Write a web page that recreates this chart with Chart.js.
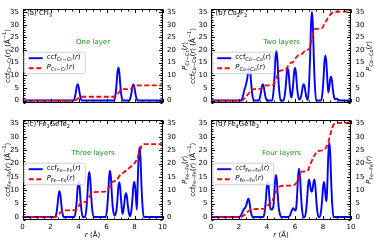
<!DOCTYPE html>
<html>
<head>
<meta charset="utf-8">
<script src="https://cdn.jsdelivr.net/npm/chart.js@4.4.0/dist/chart.umd.min.js"></script>
<style>
  html, body { margin: 0; padding: 0; background: #fff; }
  #wrap { position: relative; width: 374px; height: 240px; overflow: hidden; }
  canvas { position: absolute; }
</style>
</head>
<body>
<div id="wrap">
  <canvas id="ca"></canvas>
  <canvas id="cb"></canvas>
  <canvas id="cc"></canvas>
  <canvas id="cd"></canvas>
</div>
<script>
const FONT = '"DejaVu Sans", sans-serif';
const xTicks = [0, 2, 4, 6, 8, 10];
const yTicks = [0, 5, 10, 15, 20, 25, 30, 35];
const yMin = -1.1, yMax = 36.4;

// (a) CrI3
const aCcfR = [0, 3.64, 3.74, 3.81, 3.87, 3.94, 4.01, 4.07, 4.14, 4.24,
  6.55, 6.65, 6.72, 6.78, 6.85, 6.92, 6.98, 7.05, 7.15,
  7.62, 7.72, 7.79, 7.85, 7.92, 7.99, 8.05, 8.12, 8.22, 10];
const aCcfV = [0, 0, 1.3, 3.3, 5.5, 6.5, 5.5, 3.3, 1.3, 0,
  0, 2.6, 6.6, 11, 13.1, 11, 6.6, 2.6, 0,
  0, 1.3, 3.2, 5.4, 6.4, 5.4, 3.2, 1.3, 0, 0];
const aPR = [0, 3.75, 3.94, 4.15, 6.6, 6.85, 7.08, 7.7, 7.92, 8.15, 10];
const aPV = [0, 0, 0.75, 1.5, 1.5, 3.0, 4.5, 4.5, 5.25, 6, 6];

// (b) Co2F2
const bCcfR = [0, 2.15, 2.25, 2.32, 2.38, 2.45, 2.52, 2.59, 2.66, 2.74, 2.81, 2.87, 2.94, 3.04,
  3.4, 3.5, 3.57, 3.63, 3.7, 3.77, 3.83, 3.9, 4.0,
  4.37, 4.47, 4.54, 4.6, 4.67, 4.74, 4.8, 4.87, 4.97,
  5.18, 5.28, 5.35, 5.41, 5.48, 5.55, 5.61, 5.68, 5.74,
  5.8, 5.87, 5.93, 6.0, 6.07, 6.13, 6.2, 6.31,
  6.42, 6.49, 6.55, 6.62, 6.69, 6.75, 6.82, 6.92,
  7.01, 7.08, 7.14, 7.21, 7.28, 7.34, 7.41, 7.51,
  7.87, 7.97, 8.04, 8.1, 8.17, 8.24, 8.3, 8.37, 8.44, 8.5, 8.57, 8.64, 8.7, 8.77, 8.87, 8.98, 9.1, 9.3, 10];
const bCcfV = [0, 0, 1.1, 2.6, 4.2, 5.3, 6.9, 8.7, 11.7, 13.6, 11.2, 6.8, 2.8, 0,
  0, 1.3, 3.3, 5.5, 6.5, 5.5, 3.3, 1.3, 0,
  0, 3.9, 9.8, 16.5, 19.6, 16.5, 9.8, 3.9, 0,
  0, 2.5, 6.4, 10.7, 12.7, 10.7, 6.4, 2.6, 1.2,
  2.7, 6.5, 10.9, 13, 10.9, 6.5, 2.6, 0.4,
  1.3, 3.3, 5.5, 6.5, 5.5, 3.3, 1.3, 0.2,
  7, 17.6, 29.6, 35.2, 29.6, 17.6, 7, 0,
  0, 3.6, 9, 15, 17.9, 15, 9.4, 3.2, 4.7, 7.9, 9.4, 7.9, 4.7, 1.9, 0.5, 0.7, 0.3, 0, 0];
const bPR = [0, 2.2, 2.5, 2.74, 2.9, 3.1, 3.55, 3.7, 3.9, 4.4, 4.67, 4.95, 5.3, 5.48, 5.65, 5.85, 6.0, 6.2, 6.45,
  6.62, 6.8, 7.0, 7.21, 7.4, 7.9, 8.17, 8.36, 8.57, 8.75, 10];
const bPV = [0, 0, 1.5, 3.2, 4.3, 4.5, 4.6, 5.3, 6.0, 6.1, 9, 11.9, 12.1, 13.5, 14.8, 15.2, 16.5, 17.8, 18.3,
  19.2, 20, 20.3, 24.5, 28.3, 28.6, 31, 32.8, 34.4, 35, 35.3];

// (c) Fe3GeTe2
const cCcfR = [0, 2.34, 2.44, 2.51, 2.57, 2.64, 2.71, 2.77, 2.84, 2.94,
  3.71, 3.81, 3.88, 3.94, 4.01, 4.08, 4.14, 4.21, 4.31,
  4.47, 4.57, 4.64, 4.7, 4.77, 4.84, 4.9, 4.97, 5.07,
  5.95, 6.05, 6.12, 6.18, 6.25, 6.32, 6.38, 6.45, 6.58,
  6.71, 6.78, 6.84, 6.91, 6.98, 7.04, 7.11, 7.15,
  7.19, 7.26, 7.32, 7.39, 7.46, 7.52, 7.59, 7.69,
  7.78, 7.85, 7.91, 7.98, 8.05, 8.11, 8.17,
  8.23, 8.29, 8.36, 8.43, 8.49, 8.56, 8.66, 10];
const cCcfV = [0, 0, 1.9, 4.9, 8.1, 9.7, 8.1, 4.9, 1.9, 0,
  0, 2.6, 6.6, 11.1, 13.2, 11.1, 6.6, 2.6, 0,
  0, 3.4, 8.5, 14.2, 16.9, 14.2, 8.5, 3.4, 0,
  0, 3.5, 8.7, 14.5, 17.3, 14.5, 8.7, 3.5, 0.5,
  2.6, 6.5, 10.9, 13, 10.9, 6.5, 2.4, 1.2,
  2, 4.5, 7.5, 8.9, 7.5, 4.5, 1.8, 0.3,
  2.6, 6.6, 11.1, 13.2, 11.1, 6.6, 2.8,
  13, 21.9, 26.1, 21.9, 13, 5.2, 0, 0];
const cPR = [0, 2.35, 2.5, 2.64, 2.8, 3.0, 3.8, 4.0, 4.2, 4.5, 4.77, 5.0, 5.9, 6.25, 6.45, 6.7, 6.91, 7.1,
  7.39, 7.6, 7.98, 8.15, 8.36, 8.55, 8.75, 10];
const cPV = [0, 0, 0.6, 1.3, 2.2, 2.5, 2.6, 4, 5.4, 5.7, 7.5, 9.3, 9.5, 11.5, 13.3, 13.6, 15.3, 16.2,
  17.3, 18.3, 20, 21.5, 24.5, 27, 27.3, 27.3];

// (d) Fe4GeTe2
const dCcfR = [0, 2.03, 2.13, 2.2, 2.28, 2.36, 2.44, 2.52, 2.6, 2.67, 2.74, 2.8, 2.87, 2.97,
  3.75, 3.85, 3.92, 3.98, 4.05, 4.12, 4.18, 4.25, 4.32, 4.4, 4.47, 4.51, 4.57, 4.64, 4.71, 4.77, 4.84, 4.92, 5.05,
  5.55, 5.65, 5.72, 5.8, 5.88, 5.96, 6.03, 6.09, 6.16, 6.22, 6.29, 6.36, 6.42, 6.49, 6.59,
  6.7, 6.8, 6.87, 6.93, 7.0, 7.07, 7.13, 7.19, 7.25, 7.31, 7.38, 7.45, 7.51, 7.58, 7.68,
  7.77, 7.87, 7.94, 8.0, 8.07, 8.14, 8.2, 8.26, 8.32, 8.38, 8.45, 8.52, 8.58, 8.65, 8.75, 10];
const dCcfV = [0, 0, 0.6, 1.3, 2.3, 3, 3.5, 4.4, 6, 6.9, 5.8, 3.5, 1.4, 0,
  0, 2.6, 6.6, 11, 13.1, 11, 6.6, 3, 2.8, 3.2, 4.5, 7.9, 13.2, 15.7, 13.2, 7.9, 3.5, 1.2, 0,
  0, 0.7, 1.7, 2.8, 3.3, 2.7, 2.4, 3.6, 9.1, 15.2, 18.1, 15.2, 9.1, 3.6, 0,
  0, 2.8, 7.1, 11.8, 14.1, 12.5, 10.3, 9.4, 10.3, 12.5, 14.1, 11.8, 7.1, 2.8, 0,
  0, 2.6, 6.6, 11, 13.1, 10.5, 7, 5.9, 13.9, 23.4, 27.8, 23.4, 13.9, 5.6, 0, 0];
const dPR = [0, 2.07, 2.3, 2.5, 2.67, 2.85, 3.1, 3.85, 4.05, 4.2, 4.4, 4.64, 4.9, 5.2, 5.9, 6.1, 6.29, 6.48,
  6.9, 7.0, 7.2, 7.38, 7.6, 8.0, 8.2, 8.38, 8.55, 8.75, 8.95, 10];
const dPV = [0, 0, 0.5, 1.3, 2.2, 2.8, 3, 3.1, 4.3, 5, 6.3, 9.5, 11.4, 11.7, 11.9, 12.8, 15, 17,
  17.2, 18.5, 21, 23, 24.6, 25, 25.8, 28, 31.5, 34.5, 35.1, 35.2];

const panels = [
  { id: 'ca', box: [0, 0, 190, 112], pad: 3, lw: 22.5, rw: 27.5, xh: 1, bottom: false,
    tag: [['(a) CrI', ''], ['3', 'sub']], note: 'One layer', pair: 'Cr−Cr', ccf: [aCcfR, aCcfV], p: [aPR, aPV] },
  { id: 'cb', box: [185, 0, 189, 112], pad: 3, lw: 26, rw: 23, xh: 1, bottom: false,
    tag: [['(b) Co', ''], ['2', 'sub'], ['F', ''], ['2', 'sub']], note: 'Two layers', pair: 'Co−Co', ccf: [bCcfR, bCcfV], p: [bPR, bPV] },
  { id: 'cc', box: [0, 111, 190, 129], pad: 1, lw: 22.5, rw: 27.5, xh: 20, bottom: true,
    tag: [['(c) Fe', ''], ['3', 'sub'], ['GeTe', ''], ['2', 'sub']], note: 'Three layers', pair: 'Fe−Fe', ccf: [cCcfR, cCcfV], p: [cPR, cPV] },
  { id: 'cd', box: [185, 111, 189, 129], pad: 1, lw: 26, rw: 23, xh: 20, bottom: true,
    tag: [['(d) Fe', ''], ['4', 'sub'], ['GeTe', ''], ['2', 'sub']], note: 'Four layers', pair: 'Fe−Fe', ccf: [dCcfR, dCcfV], p: [dPR, dPV] },
];

function rich(ctx, parts, x, y, align, size) {
  const seg = parts.map(([t, k]) => {
    const s = (k === 'sub' || k === 'sup') ? size * 0.72 : size;
    const f = (k === 'i' ? 'italic ' : '') + s + 'px ' + FONT;
    ctx.font = f;
    return { t, f, w: ctx.measureText(t).width, dy: k === 'sub' ? size * 0.3 : k === 'sup' ? -size * 0.38 : 0 };
  });
  const total = seg.reduce((s, g) => s + g.w, 0);
  let cx = align === 'center' ? x - total / 2 : align === 'right' ? x - total : x;
  ctx.textAlign = 'left';
  ctx.textBaseline = 'middle';
  seg.forEach((g) => { ctx.font = g.f; ctx.fillText(g.t, cx, y + g.dy); cx += g.w; });
}

const decor = {
  id: 'decor',
  afterDraw(chart, args, o) {
    const ctx = chart.ctx, a = chart.chartArea;
    const xs = chart.scales.x, ys = chart.scales.y;
    const L = Math.round(a.left) + 0.5, R = Math.round(a.right) - 0.5;
    const T = Math.round(a.top) + 0.5, B = Math.round(a.bottom) - 0.5;
    ctx.save();
    ctx.strokeStyle = '#000';
    ctx.lineWidth = 1;
    ctx.beginPath();
    for (let v = 0; v <= 10.001; v += 0.5) {
      const px = Math.round(xs.getPixelForValue(v)) + 0.5;
      const len = Math.abs(v % 2) < 1e-6 ? 3.5 : 2;
      ctx.moveTo(px, B); ctx.lineTo(px, B - len);
      ctx.moveTo(px, T); ctx.lineTo(px, T + len);
    }
    for (let v = -1; v <= 36; v += 1) {
      const py = Math.round(ys.getPixelForValue(v)) + 0.5;
      const len = v % 5 === 0 ? 3.5 : 2;
      ctx.moveTo(L, py); ctx.lineTo(L + len, py);
      ctx.moveTo(R, py); ctx.lineTo(R - len, py);
    }
    ctx.stroke();
    ctx.strokeRect(L, T, R - L, B - T);

    ctx.fillStyle = '#000';
    rich(ctx, o.tag, a.left + 4.5, a.top + 4.8, 'left', 7);

    ctx.fillStyle = '#119911';
    rich(ctx, [[o.note, '']], a.left + 70.5, a.top + 33, 'center', 7);

    // legend
    const lx = a.left + 1.2, ly = a.top + 43;
    ctx.fillStyle = 'rgba(255,255,255,0.85)';
    ctx.strokeStyle = '#d0d0d0';
    ctx.beginPath();
    ctx.roundRect(lx + 0.5, ly + 0.5, 61, 21.5, 2);
    ctx.fill();
    ctx.stroke();
    ctx.lineWidth = 1.9;
    ctx.strokeStyle = '#0000ff';
    ctx.beginPath(); ctx.moveTo(lx + 5, ly + 6.5); ctx.lineTo(lx + 19, ly + 6.5); ctx.stroke();
    ctx.strokeStyle = '#ff0000';
    ctx.setLineDash([5, 2.5]);
    ctx.beginPath(); ctx.moveTo(lx + 5, ly + 16.5); ctx.lineTo(lx + 19, ly + 16.5); ctx.stroke();
    ctx.setLineDash([]);
    ctx.fillStyle = '#000';
    rich(ctx, [['ccf', ''], [o.pair, 'sub'], ['(', ''], ['r', 'i'], [')', '']], lx + 23, ly + 5.8, 'left', 7);
    rich(ctx, [['P', 'i'], [o.pair, 'sub'], ['(', ''], ['r', 'i'], [')', '']], lx + 23, ly + 15.8, 'left', 7);

    // axis titles
    const cy = (a.top + a.bottom) / 2;
    ctx.save();
    ctx.translate(o.leftTitleX, cy);
    ctx.rotate(-Math.PI / 2);
    rich(ctx, [['ccf', ''], [o.pair, 'sub'], ['(', ''], ['r', 'i'], [') (Å', ''], ['−1', 'sup'], [')', '']], 0, 0, 'center', 7);
    ctx.restore();
    ctx.save();
    ctx.translate(o.rightTitleX, cy);
    ctx.rotate(-Math.PI / 2);
    rich(ctx, [['P', 'i'], [o.pair, 'sub'], ['(', ''], ['r', 'i'], [')', '']], 0, 0, 'center', 7);
    ctx.restore();

    if (o.bottom) {
      rich(ctx, [['r', 'i'], [' (Å)', '']], (a.left + a.right) / 2, chart.height - 5, 'center', 7);
    }
    ctx.restore();
  },
};

const toXY = (r, v) => r.map((x, i) => ({ x, y: v[i] }));
const fixTicks = (vals) => (scale) => { scale.ticks = vals.map((v) => ({ value: v })); };

panels.forEach((p) => {
  const cv = document.getElementById(p.id);
  const [left, top, w, h] = p.box;
  cv.width = w; cv.height = h;
  cv.style.left = left + 'px'; cv.style.top = top + 'px';
  cv.style.width = w + 'px'; cv.style.height = h + 'px';
  const tickFont = { family: FONT, size: 7 };
  const yAxis = (pos, width) => ({
    type: 'linear', position: pos, min: yMin, max: yMax,
    afterBuildTicks: fixTicks(yTicks),
    afterFit: (s) => { s.width = width; },
    grid: { display: false, drawTicks: false },
    border: { display: false },
    ticks: { color: '#000', font: tickFont, padding: pos === 'left' ? 3.5 : 4.5 },
  });
  new Chart(cv, {
    type: 'line',
    data: {
      datasets: [
        {
          data: toXY(p.p[0], p.p[1]), yAxisID: 'y2', order: 0,
          borderColor: '#ff0000', borderWidth: 1.8, borderDash: [5, 2.5],
          pointRadius: 0, cubicInterpolationMode: 'monotone', fill: false,
        },
        {
          data: toXY(p.ccf[0], p.ccf[1]), yAxisID: 'y', order: 1,
          borderColor: '#0000ff', borderWidth: 1.9,
          pointRadius: 0, cubicInterpolationMode: 'monotone', fill: false,
        },
      ],
    },
    options: {
      responsive: false,
      animation: false,
      devicePixelRatio: 1,
      layout: { padding: { top: p.pad, left: 0, right: 0, bottom: 0 } },
      plugins: {
        legend: { display: false },
        tooltip: { enabled: false },
        decor: {
          tag: p.tag, note: p.note, pair: p.pair, bottom: p.bottom,
          leftTitleX: 7.8, rightTitleX: w - 4.5,
        },
      },
      scales: {
        x: {
          type: 'linear', min: 0, max: 10,
          afterBuildTicks: fixTicks(xTicks),
          afterFit: (s) => { s.height = p.xh; },
          grid: { display: false, drawTicks: false },
          border: { display: false },
          ticks: { display: p.bottom, color: '#000', font: tickFont, padding: 2.5, maxRotation: 0 },
        },
        y: yAxis('left', p.lw),
        y2: yAxis('right', p.rw),
      },
    },
    plugins: [decor],
  });
});
</script>
</body>
</html>
